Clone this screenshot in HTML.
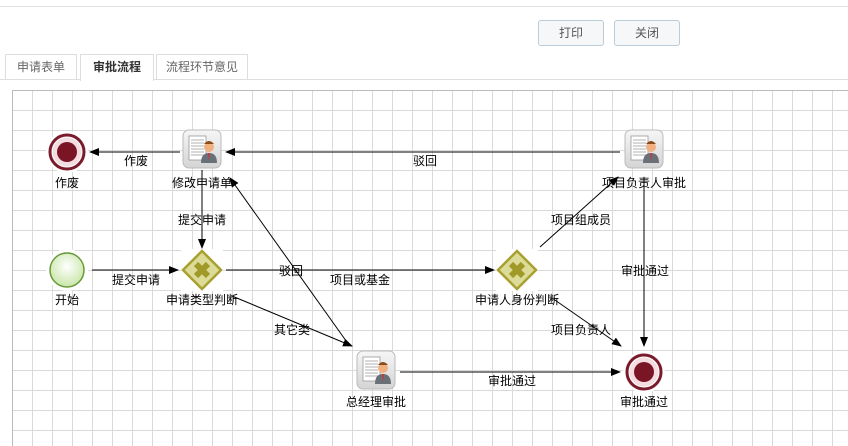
<!DOCTYPE html>
<html style="overflow:hidden;width:848px;height:446px"><head><meta charset="utf-8"><style>
body{margin:0;width:848px;height:446px;overflow:hidden;background:#fff;font-family:"Liberation Sans","Noto Sans CJK SC",sans-serif;position:relative}
.topline{position:absolute;left:0;top:6px;width:848px;height:1px;background:#e2e2e2}
.btn{position:absolute;top:20px;height:24px;width:64px;border:1px solid #b9ccd8;border-radius:3px;background:#f5f7f9;font-size:12px;color:#555;text-align:center;line-height:24px}
.tab{position:absolute;top:54px;height:25px;border:1px solid #ddd;border-bottom:none;font-size:12px;color:#666;text-align:center;line-height:25px;background:#fff}
.tabline{position:absolute;left:0;top:79px;width:848px;height:1px;background:#ddd}
.canvas{position:absolute;left:12px;top:90px;width:835px;height:356px;border-left:1px solid #bbb;border-top:1px solid #bbb;
background-image:linear-gradient(to right,#d9d9d9 1px,transparent 1px),linear-gradient(to bottom,#d9d9d9 1px,transparent 1px);background-size:20px 20px;background-position:-1px -1px}
svg{position:absolute;left:0;top:0}
text{font-family:"Liberation Sans","Noto Sans CJK SC",sans-serif;font-size:12px;fill:#000}
</style></head><body>
<div class="topline"></div>
<div class="btn" style="left:538px">打印</div>
<div class="btn" style="left:614px">关闭</div>
<div class="tab" style="left:5px;width:70px">申请表单</div>
<div class="tab" style="left:80px;width:72px;height:26px;color:#333;font-weight:bold;z-index:2">审批流程</div>
<div class="tab" style="left:156px;width:90px">流程环节意见</div>
<div class="tabline"></div>
<div class="canvas"></div>
<svg width="848" height="446">
<defs>
<marker id="a" markerWidth="10" markerHeight="8" refX="9" refY="4" orient="auto" markerUnits="userSpaceOnUse"><path d="M0,0L10,4L0,8z" fill="#000"/></marker>
<radialGradient id="g1" cx="50%" cy="40%" r="60%"><stop offset="0" stop-color="#fff"/><stop offset="1" stop-color="#c8e6a8"/></radialGradient>
<linearGradient id="tb" x1="0" y1="0" x2="0" y2="1"><stop offset="0" stop-color="#f6f6f6"/><stop offset="1" stop-color="#d4d4d4"/></linearGradient>
<g id="task"><rect x="-19" y="-19" width="38" height="38" rx="6" fill="url(#tb)" stroke="#bbb"/>
<rect x="-13" y="-13" width="17" height="24" fill="#fff" stroke="#999" stroke-width=".8"/>
<path d="M-11,-9h13M-11,-6h13M-11,-3h13M-11,0h13M-11,3h13M-11,6h13" stroke="#999" stroke-width=".8"/>
<circle cx="7" cy="-2" r="5" fill="#f0b080"/><path d="M2,-5q5,-6 10,0" fill="#8a4a1a"/>
<path d="M-1,14q0,-10 8,-10q8,0 8,10z" fill="#6a7078"/><path d="M6,4l1,8l1,-8z" fill="#c33"/></g>
<g id="gw"><rect x="-21" y="-21" width="42" height="42" fill="#fff" stroke="none"/><path d="M0,-19L19,0L0,19L-19,0z" fill="#dcdc98" stroke="#a8a030" stroke-width="2.5"/>
<path d="M-6,-6L6,6M6,-6L-6,6" stroke="#a09a28" stroke-width="6"/></g>
<g id="end"><circle r="21" fill="#fff"/><circle r="17" fill="#fff" stroke="#7a1a2a" stroke-width="3"/><circle r="14.5" fill="#f4dde0"/><circle r="10" fill="#7a1525"/></g>
</defs>
<g stroke="#000" stroke-width="1" fill="none" marker-end="url(#a)">
<line x1="180" y1="152" x2="90" y2="152"/>
<line x1="620" y1="152" x2="226" y2="152"/>
<line x1="202" y1="170" x2="202" y2="248"/>
<line x1="92" y1="270" x2="178" y2="270"/>
<line x1="226" y1="270" x2="494" y2="270"/>
<line x1="349" y1="345" x2="230" y2="178"/>
<line x1="232" y1="296" x2="352" y2="346"/>
<line x1="540" y1="247" x2="618" y2="177"/>
<line x1="552" y1="298" x2="621" y2="346"/>
<line x1="644" y1="178" x2="644" y2="346"/>
<line x1="400" y1="372" x2="620" y2="372"/>
</g>
<g transform="translate(67,152)"><use href="#end"/></g>
<g transform="translate(644,372)"><use href="#end"/></g>
<circle cx="67" cy="270" r="21" fill="#fff"/>
<circle cx="67" cy="270" r="17" fill="url(#g1)" stroke="#6a9a3a" stroke-width="1.5"/>
<g transform="translate(202,149)"><use href="#task"/></g>
<g transform="translate(644,149)"><use href="#task"/></g>
<g transform="translate(376,370)"><use href="#task"/></g>
<g transform="translate(202,270)"><use href="#gw"/></g>
<g transform="translate(517,270)"><use href="#gw"/></g>
<g text-anchor="middle">
<text x="67" y="187">作废</text>
<text x="202" y="187">修改申请单</text>
<text x="644" y="187">项目负责人审批</text>
<text x="67" y="304">开始</text>
<text x="202" y="304">申请类型判断</text>
<text x="517" y="304">申请人身份判断</text>
<text x="376" y="406">总经理审批</text>
<text x="644" y="406">审批通过</text>
<text x="136" y="165">作废</text>
<text x="425" y="165">驳回</text>
<text x="202" y="224">提交申请</text>
<text x="136" y="284">提交申请</text>
<text x="360" y="284">项目或基金</text>
<text x="291" y="275">驳回</text>
<text x="292" y="334">其它类</text>
<text x="581" y="224">项目组成员</text>
<text x="581" y="334">项目负责人</text>
<text x="645" y="275">审批通过</text>
<text x="512" y="385">审批通过</text>
</g>
</svg>
</body></html>
